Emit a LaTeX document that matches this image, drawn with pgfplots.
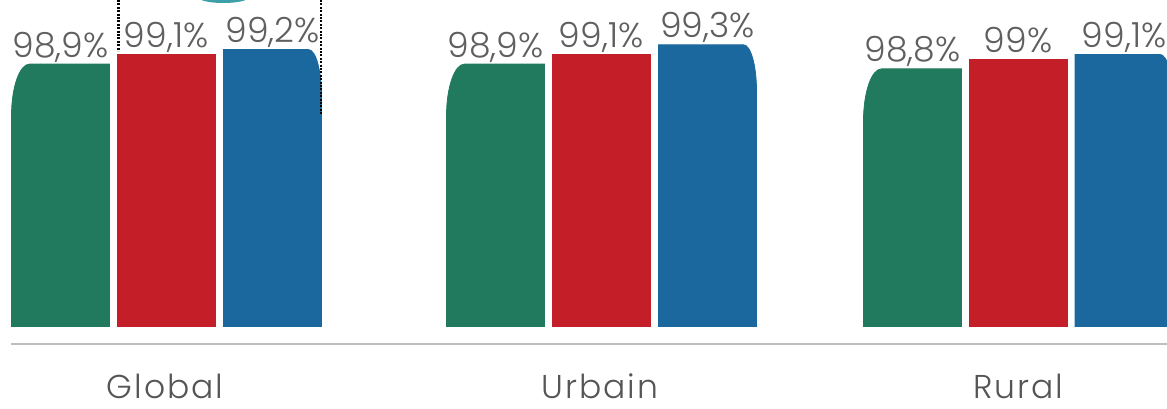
\documentclass[border=0pt]{standalone}
\usepackage{pgfplots}
\pgfplotsset{compat=1.18}
\usepackage{fontspec}
\setmainfont{Poppins}[UprightFont={* Light}]
\newfontfamily\catfont[LetterSpace=6,UprightFont={* Light}]{Poppins}
\definecolor{cgreen}{RGB}{34,122,94}
\definecolor{cred}{RGB}{196,31,40}
\definecolor{cblue}{RGB}{26,104,158}
\definecolor{labgray}{RGB}{95,95,95}
\definecolor{catgray}{RGB}{85,85,85}
\definecolor{linegray}{RGB}{190,190,190}
\definecolor{arcteal}{RGB}{60,160,170}
\newcommand\baseval{93.45}
\newcommand\unitpt{24.075}
\newcommand\barlabel{\node[anchor=base,text=labgray,font=\fontsize{17.3}{19}\selectfont,inner sep=0pt] at (0pt,3.5pt) {\pgfmathprintnumber[fixed,precision=1,use comma,assume math mode=true]{\rawy}\%};}
\pgfplotsset{
 barcommon/.style={scatter, only marks, mark=*, mark size=0pt,
   mark options={draw=none,fill=none},
   visualization depends on={rawy \as \rawy},
   scatter/@post marker code/.code={}},
 greenbar/.style={barcommon, scatter/@pre marker code/.code={%
   \pgfmathsetmacro\hh{(\rawy-\baseval)*\unitpt}%
   \fill[cgreen] (-24.5pt,-\hh pt) -- (24.5pt,-\hh pt) -- (24.5pt,0pt) -- (-15.5pt,0pt) arc[start angle=90,end angle=180,x radius=9pt,y radius=26pt] -- cycle;
   \barlabel}},
 redbar/.style={barcommon, scatter/@pre marker code/.code={%
   \pgfmathsetmacro\hh{(\rawy-\baseval)*\unitpt}%
   \fill[cred] (-24.5pt,-\hh pt) rectangle (24.5pt,0pt);
   \barlabel}},
 bluebar/.style={barcommon, scatter/@pre marker code/.code={%
   \pgfmathsetmacro\hh{(\rawy-\baseval)*\unitpt}%
   \fill[cblue] (-24.5pt,-\hh pt) -- (24.5pt,-\hh pt) -- (24.5pt,-23pt) arc[start angle=0,end angle=90,x radius=6.5pt,y radius=23pt] -- (-24.5pt,0pt) -- cycle;
   \barlabel}},
}
\begin{document}
\begin{tikzpicture}
\useasboundingbox (0pt,0pt) rectangle (583.5pt,204pt);
\clip (0pt,0pt) rectangle (583.5pt,204pt);
\begin{axis}[
  at={(0pt,40.75pt)}, anchor=south west,
  scale only axis, width=583.5pt, height=163.25pt,
  xmin=0, xmax=1167, ymin=93.45, ymax=100.231,
  clip=false,
  hide y axis,
  axis x line*=bottom,
  x axis line style={draw=none},
  major tick length=0pt,
  xtick={165,600,1018.5},
  xticklabels={Global,Urbain,Rural},
  xticklabel style={anchor=base, yshift=-35.75pt, text=catgray, font=\catfont\fontsize{16.5}{18}\selectfont},
]
\addplot[greenbar] coordinates {(60.5,98.9) (495.5,98.9) (912.5,98.8)};
\addplot[redbar] coordinates {(166,99.1) (601,99.1) (1018,99.0)};
\addplot[bluebar] coordinates {(272.5,99.2) (707.5,99.3) (1124,99.1)};
\end{axis}
\draw[line width=1pt, linegray] (5.5pt,32pt) -- (583.5pt,32pt);
\draw[line width=1.2pt, black, dash pattern=on 1pt off 0.7pt] (59.25pt,204pt) -- (59.25pt,178.5pt);
\draw[line width=1.2pt, black, dash pattern=on 1pt off 0.7pt] (160.5pt,204pt) -- (160.5pt,146.5pt);
\fill[arcteal] (111.75pt,205pt) ellipse [x radius=12pt, y radius=2.5pt];
\end{tikzpicture}
\end{document}
